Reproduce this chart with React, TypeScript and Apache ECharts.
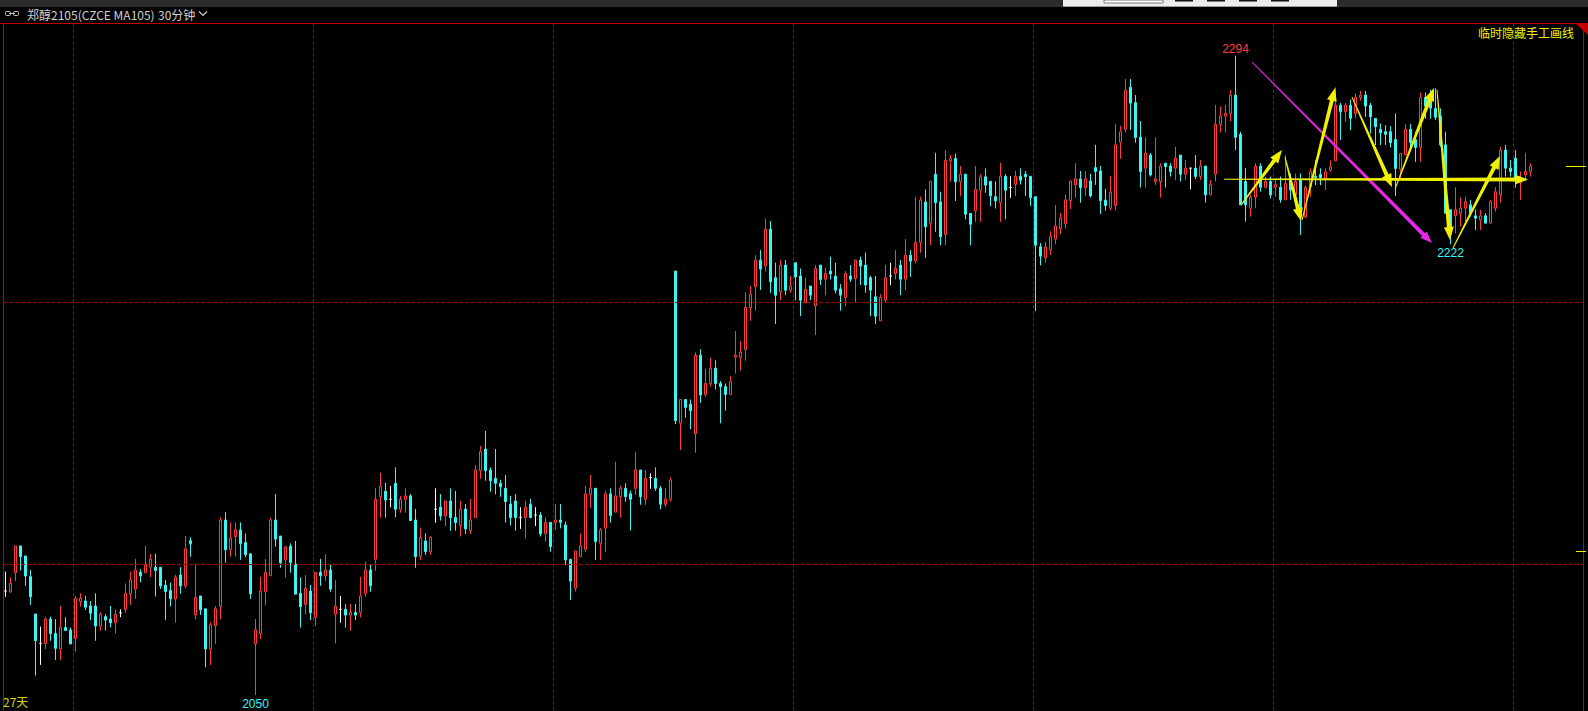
import React, { useEffect, useRef } from 'react';
import * as echarts from 'echarts';

// ---- candle values (30-minute bars, 郑醇2105) ----
const opens = [
  2089.7, 2089.4, 2096.7, 2106.9, 2103.1, 2095.2, 2080.9, 2069.7, 2069.7, 2079.0,
  2073.5, 2067.6, 2075.8, 2074.8, 2071.6, 2085.6, 2085.9, 2084.0, 2084.0, 2076.3,
  2079.9, 2079.0, 2077.6, 2081.4, 2082.7, 2088.6, 2090.5, 2096.9, 2096.7, 2098.8,
  2098.8, 2098.8, 2091.9, 2089.9, 2086.7, 2095.8, 2091.6, 2108.9, 2080.6, 2087.8,
  2082.9, 2067.6, 2076.5, 2083.8, 2116.8, 2105.6, 2110.5, 2113.0, 2108.2, 2103.9,
  2069.5, 2073.5, 2089.4, 2095.5, 2116.8, 2110.7, 2101.5, 2106.8, 2100.0, 2088.8,
  2084.6, 2089.7, 2079.6, 2096.8, 2095.5, 2097.7, 2080.8, 2082.7, 2082.7, 2080.5,
  2081.5, 2081.4, 2088.8, 2097.7, 2101.8, 2125.7, 2127.8, 2124.7, 2130.8, 2120.9,
  2124.7, 2126.0, 2116.8, 2102.8, 2108.8, 2104.7, 2120.9, 2121.7, 2118.3, 2124.1,
  2117.8, 2114.7, 2121.0, 2112.7, 2117.7, 2135.6, 2143.9, 2135.9, 2132.7, 2130.8,
  2128.9, 2122.9, 2124.1, 2117.8, 2117.8, 2122.8, 2118.7, 2118.7, 2111.7, 2115.9,
  2115.9, 2116.8, 2114.9, 2101.8, 2090.8, 2102.8, 2105.6, 2126.6, 2128.9, 2107.9,
  2113.7, 2126.8, 2119.8, 2125.7, 2128.9, 2126.8, 2128.9, 2135.9, 2124.7, 2133.0,
  2132.7, 2128.9, 2122.8, 2124.7, 2211.8, 2153.7, 2162.8, 2161.0, 2149.8, 2179.7,
  2164.7, 2168.9, 2174.7, 2168.9, 2167.7, 2164.7, 2179.0, 2178.9, 2181.9, 2197.9,
  2205.8, 2216.0, 2213.8, 2227.8, 2209.3, 2203.9, 2214.1, 2204.5, 2215.0, 2209.9,
  2199.7, 2206.1, 2198.6, 2214.1, 2208.7, 2211.8, 2209.9, 2205.0, 2201.7, 2209.9,
  2209.0, 2216.0, 2214.1, 2209.3, 2202.0, 2192.8, 2200.7, 2209.9, 2210.9, 2214.1,
  2208.7, 2217.9, 2215.7, 2222.7, 2238.2, 2230.0, 2248.8, 2238.2, 2225.8, 2253.9,
  2254.8, 2245.9, 2248.8, 2233.8, 2234.8, 2242.7, 2247.8, 2246.1, 2240.2, 2237.9,
  2248.0, 2243.7, 2244.9, 2248.0, 2248.8, 2248.0, 2240.2, 2221.1, 2217.0, 2220.0,
  2224.0, 2228.0, 2230.0, 2238.7, 2244.7, 2247.0, 2243.7, 2246.2, 2251.3, 2250.0,
  2238.9, 2235.8, 2236.8, 2261.0, 2265.9, 2282.0, 2276.1, 2262.9, 2251.1, 2256.1,
  2246.0, 2246.0, 2253.0, 2251.9, 2251.1, 2256.1, 2248.8, 2251.1, 2251.1, 2247.9,
  2251.9, 2240.9, 2248.8, 2267.8, 2271.0, 2272.0, 2279.0, 2264.0, 2246.0, 2235.8,
  2240.0, 2251.9, 2243.8, 2246.0, 2243.8, 2243.8, 2239.0, 2247.2, 2240.9, 2246.6,
  2232.5, 2244.0, 2248.0, 2248.7, 2246.8, 2250.3, 2253.9, 2275.1, 2272.6, 2275.1,
  2272.0, 2278.1, 2279.0, 2275.1, 2270.1, 2265.9, 2265.0, 2265.0, 2262.0, 2250.7,
  2256.1, 2265.9, 2262.0, 2259.0, 2278.1, 2279.0, 2273.9, 2271.0, 2260.0, 2235.2,
  2232.9, 2233.9, 2235.8, 2237.1, 2232.9, 2231.3, 2232.9, 2230.1, 2235.8, 2240.9,
  2258.0, 2251.1, 2254.9, 2245.6, 2248.5, 2249.8
];
const closes = [
  2089.7, 2092.6, 2106.9, 2102.8, 2095.4, 2087.5, 2070.7, 2069.7, 2079.0, 2073.5,
  2067.8, 2075.8, 2074.6, 2069.5, 2086.9, 2086.9, 2083.5, 2081.2, 2076.3, 2080.8,
  2078.6, 2077.6, 2080.8, 2081.4, 2088.8, 2093.9, 2097.7, 2095.5, 2100.0, 2101.8,
  2097.5, 2091.6, 2089.5, 2086.7, 2095.0, 2091.6, 2105.8, 2107.7, 2087.2, 2082.5,
  2067.6, 2076.8, 2082.9, 2116.8, 2105.4, 2109.8, 2113.0, 2107.7, 2103.5, 2088.6,
  2074.9, 2089.7, 2096.8, 2116.8, 2109.5, 2100.5, 2106.6, 2100.5, 2088.5, 2083.7,
  2090.7, 2081.4, 2096.8, 2095.5, 2097.7, 2090.4, 2083.9, 2082.7, 2080.5, 2081.5,
  2080.5, 2087.8, 2097.7, 2091.7, 2124.7, 2129.7, 2124.4, 2124.7, 2120.9, 2124.7,
  2126.0, 2116.6, 2102.8, 2110.1, 2104.7, 2110.1, 2120.9, 2118.3, 2124.1, 2117.7,
  2115.8, 2121.0, 2113.4, 2116.8, 2135.9, 2142.9, 2135.6, 2131.8, 2130.8, 2129.5,
  2123.8, 2117.7, 2117.7, 2117.8, 2121.7, 2117.7, 2118.7, 2111.5, 2115.9, 2106.7,
  2116.8, 2115.9, 2101.6, 2093.5, 2105.0, 2106.9, 2126.8, 2128.9, 2108.6, 2113.0,
  2126.8, 2118.5, 2126.0, 2128.9, 2125.7, 2124.7, 2135.9, 2125.7, 2132.7, 2133.0,
  2128.9, 2122.8, 2124.8, 2132.1, 2154.7, 2162.8, 2159.8, 2158.5, 2179.7, 2164.5,
  2168.9, 2174.7, 2168.9, 2167.7, 2164.7, 2169.6, 2179.7, 2180.8, 2197.9, 2202.9,
  2216.0, 2212.6, 2227.8, 2207.7, 2202.6, 2214.1, 2204.5, 2206.1, 2209.6, 2200.7,
  2204.8, 2202.6, 2212.8, 2208.6, 2210.9, 2210.7, 2204.5, 2202.6, 2210.9, 2208.7,
  2216.0, 2213.7, 2206.5, 2204.5, 2194.6, 2201.7, 2209.3, 2209.9, 2212.8, 2208.7,
  2217.9, 2215.6, 2222.7, 2238.9, 2228.7, 2246.1, 2237.9, 2224.9, 2254.1, 2254.8,
  2245.9, 2248.8, 2233.5, 2229.7, 2243.0, 2247.8, 2244.6, 2240.5, 2238.6, 2248.0,
  2242.7, 2243.7, 2248.0, 2246.5, 2247.8, 2239.8, 2221.7, 2217.5, 2221.0, 2225.0,
  2229.0, 2232.0, 2239.0, 2246.2, 2247.0, 2243.7, 2247.0, 2240.5, 2249.8, 2238.7,
  2236.8, 2241.9, 2260.0, 2265.0, 2280.9, 2275.9, 2262.8, 2249.8, 2256.8, 2248.5,
  2247.0, 2251.9, 2251.7, 2249.8, 2254.9, 2248.8, 2251.1, 2251.1, 2247.9, 2251.9,
  2240.9, 2244.9, 2267.8, 2271.0, 2272.0, 2279.0, 2262.9, 2237.1, 2237.1, 2240.0,
  2251.9, 2243.8, 2246.0, 2240.9, 2244.9, 2239.0, 2245.3, 2242.8, 2246.0, 2232.6,
  2243.7, 2249.7, 2247.5, 2247.5, 2249.7, 2251.6, 2275.1, 2272.6, 2275.1, 2270.1,
  2278.1, 2279.0, 2274.8, 2270.7, 2266.9, 2264.6, 2264.0, 2260.8, 2251.0, 2256.7,
  2265.9, 2260.8, 2259.0, 2278.1, 2274.8, 2274.0, 2270.5, 2260.0, 2233.9, 2226.2,
  2235.2, 2235.8, 2238.3, 2233.9, 2232.0, 2232.9, 2230.1, 2238.3, 2242.1, 2258.0,
  2251.1, 2249.8, 2247.2, 2246.6, 2249.8, 2251.9
];
const lows = [
  2087.5, 2089.0, 2093.5, 2097.5, 2091.7, 2084.4, 2057.4, 2061.5, 2067.6, 2070.7,
  2063.4, 2063.4, 2074.6, 2069.5, 2066.5, 2083.7, 2082.4, 2078.6, 2070.7, 2074.6,
  2074.6, 2075.8, 2073.5, 2079.7, 2081.4, 2084.4, 2086.7, 2093.0, 2096.7, 2095.0,
  2087.6, 2090.5, 2078.7, 2083.8, 2077.6, 2088.6, 2090.8, 2102.8, 2078.9, 2080.6,
  2060.6, 2061.5, 2069.5, 2078.9, 2100.5, 2102.8, 2102.8, 2101.6, 2102.6, 2086.7,
  2050.0, 2071.3, 2084.3, 2095.5, 2106.6, 2098.6, 2094.8, 2096.7, 2088.5, 2075.7,
  2080.8, 2078.6, 2076.4, 2091.7, 2093.6, 2089.4, 2069.7, 2077.6, 2075.7, 2074.5,
  2078.6, 2079.6, 2087.5, 2089.4, 2097.4, 2117.7, 2117.7, 2121.6, 2117.8, 2119.6,
  2119.6, 2116.6, 2098.6, 2101.5, 2103.5, 2103.5, 2115.8, 2116.6, 2114.5, 2112.7,
  2112.7, 2110.5, 2111.5, 2111.5, 2117.7, 2132.5, 2131.8, 2127.6, 2126.6, 2125.7,
  2115.8, 2114.7, 2112.7, 2113.4, 2109.8, 2117.7, 2114.5, 2110.5, 2108.6, 2104.7,
  2113.0, 2113.6, 2099.7, 2086.3, 2089.5, 2102.8, 2104.5, 2121.5, 2101.6, 2101.6,
  2104.7, 2115.8, 2119.8, 2117.7, 2123.8, 2112.8, 2126.4, 2122.6, 2122.6, 2128.7,
  2127.9, 2120.9, 2121.7, 2123.8, 2153.4, 2143.5, 2155.9, 2151.5, 2142.5, 2161.5,
  2163.8, 2167.7, 2166.6, 2153.7, 2158.5, 2164.7, 2172.7, 2173.8, 2177.6, 2192.8,
  2196.7, 2204.6, 2211.6, 2203.5, 2191.6, 2200.7, 2202.6, 2203.5, 2200.7, 2194.6,
  2199.7, 2200.7, 2187.4, 2206.5, 2202.6, 2208.6, 2203.3, 2196.7, 2198.4, 2207.7,
  2199.8, 2206.5, 2203.5, 2194.6, 2191.6, 2192.8, 2199.7, 2206.5, 2208.6, 2202.6,
  2204.5, 2209.6, 2214.7, 2218.8, 2216.9, 2221.7, 2226.8, 2221.7, 2221.7, 2245.9,
  2238.6, 2240.5, 2231.6, 2221.7, 2230.6, 2230.6, 2241.7, 2236.6, 2235.7, 2230.6,
  2231.6, 2239.8, 2240.5, 2244.9, 2240.5, 2236.7, 2196.5, 2214.0, 2215.0, 2218.0,
  2222.0, 2226.0, 2228.0, 2235.5, 2239.9, 2237.9, 2240.5, 2239.9, 2244.7, 2233.6,
  2234.9, 2234.9, 2234.9, 2254.6, 2264.7, 2265.7, 2260.8, 2243.7, 2243.7, 2247.9,
  2244.7, 2239.9, 2243.7, 2247.9, 2246.6, 2246.0, 2246.6, 2243.0, 2246.9, 2246.6,
  2237.9, 2240.9, 2246.0, 2264.7, 2264.7, 2268.9, 2258.0, 2237.1, 2230.7, 2232.6,
  2235.8, 2242.1, 2243.4, 2239.6, 2240.2, 2237.9, 2239.0, 2239.0, 2240.0, 2225.6,
  2232.0, 2240.2, 2244.6, 2244.6, 2242.7, 2249.7, 2253.9, 2261.8, 2268.8, 2265.6,
  2270.1, 2276.8, 2270.7, 2264.3, 2259.9, 2259.9, 2259.9, 2259.0, 2240.4, 2246.8,
  2256.1, 2259.0, 2253.5, 2253.5, 2270.0, 2270.0, 2269.5, 2259.3, 2233.9, 2222.0,
  2226.2, 2228.8, 2230.7, 2232.6, 2227.5, 2227.5, 2230.1, 2230.1, 2234.5, 2237.9,
  2247.9, 2247.9, 2243.7, 2239.0, 2246.0, 2247.9
];
const highs = [
  2097.1, 2094.9, 2106.9, 2106.9, 2103.1, 2097.7, 2080.9, 2076.1, 2079.9, 2079.9,
  2079.0, 2084.0, 2079.7, 2075.8, 2087.8, 2088.8, 2087.8, 2085.9, 2088.8, 2081.6,
  2080.8, 2084.0, 2082.7, 2082.7, 2092.6, 2097.1, 2101.9, 2098.0, 2106.9, 2103.9,
  2103.9, 2098.8, 2093.9, 2092.9, 2095.8, 2098.8, 2110.7, 2110.2, 2100.0, 2087.8,
  2082.9, 2077.8, 2084.0, 2117.9, 2119.8, 2115.9, 2115.9, 2115.9, 2111.7, 2103.9,
  2079.0, 2095.1, 2101.9, 2117.8, 2126.7, 2110.7, 2106.6, 2107.9, 2108.8, 2094.9,
  2095.8, 2092.0, 2096.8, 2101.9, 2103.8, 2100.0, 2093.9, 2087.8, 2084.7, 2084.7,
  2084.7, 2095.1, 2100.9, 2100.0, 2129.1, 2134.8, 2131.0, 2129.8, 2136.9, 2126.0,
  2128.9, 2126.7, 2121.0, 2113.9, 2111.7, 2110.7, 2128.9, 2126.7, 2124.1, 2128.9,
  2127.9, 2124.1, 2122.9, 2124.8, 2137.8, 2145.1, 2150.8, 2136.9, 2143.9, 2132.1,
  2134.0, 2126.0, 2126.7, 2121.7, 2124.1, 2124.8, 2121.7, 2119.8, 2117.8, 2115.9,
  2122.9, 2122.9, 2116.2, 2101.8, 2105.0, 2111.7, 2129.8, 2134.0, 2128.9, 2113.7,
  2127.9, 2128.9, 2139.1, 2129.9, 2130.8, 2128.0, 2142.7, 2135.9, 2135.9, 2134.6,
  2136.9, 2129.8, 2128.9, 2133.1, 2211.8, 2162.8, 2162.8, 2162.8, 2180.8, 2182.0,
  2174.7, 2178.8, 2177.8, 2169.8, 2168.9, 2171.7, 2188.9, 2185.1, 2203.7, 2206.1,
  2217.9, 2219.8, 2231.9, 2230.9, 2215.0, 2216.0, 2216.0, 2209.9, 2215.0, 2212.8,
  2209.3, 2206.1, 2214.1, 2214.1, 2213.1, 2217.3, 2215.0, 2206.8, 2211.8, 2214.1,
  2216.0, 2217.3, 2218.9, 2209.9, 2209.9, 2202.9, 2214.1, 2215.0, 2219.8, 2216.0,
  2224.0, 2219.8, 2240.2, 2240.2, 2243.0, 2246.1, 2257.0, 2242.1, 2258.0, 2256.1,
  2256.7, 2251.9, 2248.8, 2233.8, 2251.9, 2248.8, 2251.0, 2246.1, 2246.1, 2253.1,
  2248.8, 2248.0, 2250.0, 2251.0, 2250.0, 2248.0, 2240.2, 2222.5, 2223.0, 2227.0,
  2237.0, 2234.0, 2241.0, 2246.2, 2253.0, 2250.0, 2250.0, 2248.9, 2260.0, 2251.9,
  2243.2, 2248.1, 2268.0, 2267.2, 2285.1, 2285.1, 2279.0, 2269.1, 2262.9, 2256.8,
  2262.9, 2253.0, 2253.0, 2253.0, 2259.3, 2256.1, 2254.2, 2251.1, 2256.1, 2254.2,
  2251.9, 2246.6, 2275.2, 2274.6, 2275.2, 2281.0, 2294.0, 2265.0, 2251.1, 2240.9,
  2253.0, 2253.0, 2247.9, 2247.9, 2246.6, 2247.9, 2256.1, 2249.1, 2249.1, 2249.1,
  2244.5, 2251.0, 2254.1, 2251.0, 2251.0, 2254.1, 2281.9, 2276.0, 2276.0, 2277.3,
  2279.6, 2280.6, 2280.6, 2276.0, 2270.1, 2268.1, 2267.5, 2267.1, 2272.0, 2256.7,
  2267.9, 2267.9, 2265.0, 2279.9, 2280.0, 2281.0, 2281.6, 2273.9, 2265.0, 2235.2,
  2243.8, 2240.0, 2240.2, 2239.0, 2235.2, 2235.2, 2233.9, 2239.0, 2243.8, 2259.3,
  2259.9, 2254.2, 2258.0, 2249.8, 2256.8, 2253.0
];
const emptySlots = 10;
const gridPrices = [2100, 2200];
const sessionStart = 14;
const sessionLength = 48;
const hiIndex = 246;
const loIndex = 50;
const recentLoIndex = 289;
const refMarkPrice = 2105;

// hand-drawn analysis arrows, anchored as [bar index, price]
const yellowArrows = [
  [[247.1, 2237.0], [255.3, 2258.0]],
  [[255.9, 2255.3], [259.1, 2230.9]],
  [[259.3, 2231.3], [265.9, 2281.7]],
  [[269.3, 2278.2], [277.3, 2243.9]],
  [[277.9, 2243.1], [285.7, 2281.7]],
  [[286.3, 2280.9], [288.9, 2223.7]],
  [[289.5, 2220.6], [298.9, 2255.7]],
  [[243.7, 2246.9], [304.5, 2246.8]],
];
const magentaArrow = [[249.3, 2291.6], [285.3, 2222.5]];

const RED = '#ff3c3c';
const CYAN = '#3cf5f5';
const GRID_RED = '#a30000';
const YELLOW = '#f0f000';

export default function App() {
  const ref = useRef<HTMLDivElement>(null);
  useEffect(() => {
    document.body.style.margin = '0';
    document.body.style.background = '#000';
    const chart = echarts.init(ref.current!, null, { renderer: 'svg' });
    const n = opens.length;
    const cats: string[] = [];
    for (let i = 0; i < n + emptySlots; i++) cats.push(String(i + 1));
    const data = opens.map((o, i) => {
      const v = [o, closes[i], lows[i], highs[i]];
      if (o === closes[i]) {
        return { value: v, itemStyle: { color: '#ffffff', color0: '#ffffff', borderColor: '#ffffff', borderColor0: '#ffffff' } };
      }
      return v;
    });
    chart.setOption({
      animation: false,
      backgroundColor: '#000000',
      grid: { left: 3, right: 5, top: 23, bottom: 0, containLabel: false },
      xAxis: {
        type: 'category',
        data: cats,
        boundaryGap: true,
        axisLine: { show: false },
        axisTick: { show: false },
        axisLabel: { show: false },
        splitLine: {
          show: true,
          interval: (idx: number) => idx % sessionLength === sessionStart,
          lineStyle: { color: GRID_RED, type: [4, 2], width: 1 },
        },
      },
      yAxis: {
        type: 'value',
        min: 2043.9,
        max: 2306.5,
        axisLine: { show: false },
        axisTick: { show: false },
        axisLabel: { show: false },
        splitLine: { show: false },
      },
      series: [
        {
          type: 'candlestick',
          data,
          barWidth: 3,
          itemStyle: {
            color: '#000000',
            color0: CYAN,
            borderColor: RED,
            borderColor0: CYAN,
            borderWidth: 1,
          },
          markLine: {
            silent: true,
            symbol: 'none',
            label: { show: false },
            lineStyle: { color: GRID_RED, type: [4, 2], width: 1 },
            data: gridPrices.map((p) => ({ yAxis: p })),
          },
        },
      ],
    });

    const xa = chart.convertToPixel({ xAxisIndex: 0 }, 0) as number;
    const xb = chart.convertToPixel({ xAxisIndex: 0 }, 1) as number;
    const X = (i: number) => xa + (xb - xa) * i;
    const Y = (p: number) => chart.convertToPixel({ yAxisIndex: 0 }, p) as number;

    const taper = (ax: number, ay: number, bx: number, by: number, color: string, shaft: number, headW: number, headL: number) => {
      const dx = bx - ax, dy = by - ay;
      const len = Math.hypot(dx, dy);
      const ux = dx / len, uy = dy / len;
      const px = -uy, py = ux;
      const bsx = bx - ux * headL, bsy = by - uy * headL;
      const t = 0.5;
      const pts = [
        [ax + px * t, ay + py * t],
        [bsx + px * shaft / 2, bsy + py * shaft / 2],
        [bsx + px * headW / 2, bsy + py * headW / 2],
        [bx, by],
        [bsx - px * headW / 2, bsy - py * headW / 2],
        [bsx - px * shaft / 2, bsy - py * shaft / 2],
        [ax - px * t, ay - py * t],
      ];
      return { type: 'polygon', shape: { points: pts }, style: { fill: color }, z: 50 };
    };

    const els: any[] = [];
    // frame
    els.push({ type: 'rect', shape: { x: 0, y: 0, width: 1588, height: 7 }, style: { fill: '#2b2b2b' }, z: 40 });
    els.push({ type: 'line', shape: { x1: 0, y1: 23.5, x2: 1588, y2: 23.5 }, style: { stroke: '#c00000', lineWidth: 1 }, z: 40 });
    els.push({ type: 'line', shape: { x1: 3.5, y1: 23, x2: 3.5, y2: 711 }, style: { stroke: '#c00000', lineWidth: 1 }, z: 40 });
    els.push({ type: 'line', shape: { x1: 1583.5, y1: 23, x2: 1583.5, y2: 711 }, style: { stroke: '#3a3a3a', lineWidth: 1 }, z: 40 });
    els.push({ type: 'polygon', shape: { points: [[1576, 24], [1588, 24], [1588, 35]] }, style: { fill: '#c00000' }, z: 41 });
    // toolbar remnant
    els.push({ type: 'rect', shape: { x: 1063, y: 0, width: 274, height: 7 }, style: { fill: '#ececec' }, z: 41 });
    els.push({ type: 'rect', shape: { x: 1104, y: 0, width: 59, height: 3 }, style: { fill: '#ffffff', stroke: '#7a7a7a', lineWidth: 1 }, z: 42 });
    [1175, 1207, 1239, 1271].forEach((x) => {
      els.push({ type: 'rect', shape: { x, y: 0, width: 18, height: 1.5 }, style: { fill: '#111111' }, z: 42 });
    });
    els.push({ type: 'line', shape: { x1: 1063, y1: 6.5, x2: 1337, y2: 6.5 }, style: { stroke: '#9a9a9a', lineWidth: 1 }, z: 42 });
    // header
    els.push({ type: 'rect', shape: { x: 5.5, y: 11.5, width: 5, height: 4, r: 1 }, style: { fill: 'none', stroke: '#c8c8c8', lineWidth: 1 }, z: 42 });
    els.push({ type: 'rect', shape: { x: 13.5, y: 11.5, width: 5, height: 4, r: 1 }, style: { fill: 'none', stroke: '#c8c8c8', lineWidth: 1 }, z: 42 });
    els.push({ type: 'line', shape: { x1: 9, y1: 13.5, x2: 15, y2: 13.5 }, style: { stroke: '#c8c8c8', lineWidth: 1 }, z: 42 });
    els.push({ type: 'text', x: 27, y: 14, style: { text: '郑醇2105(CZCE MA105)', fill: '#d0d0d0', font: '12px "Noto Sans CJK SC"', textVerticalAlign: 'middle' }, z: 42 });
    els.push({ type: 'text', x: 158, y: 14, style: { text: '30分钟', fill: '#d0d0d0', font: '12px "Noto Sans CJK SC"', textVerticalAlign: 'middle' }, z: 42 });
    els.push({ type: 'polyline', shape: { points: [[199, 11.5], [203, 15.5], [207, 11.5]] }, style: { stroke: '#d0d0d0', lineWidth: 1.2, fill: 'none' }, z: 42 });
    els.push({ type: 'text', x: 1574, y: 32, style: { text: '临时隐藏手工画线', fill: YELLOW, font: '12px "Noto Sans CJK SC"', textAlign: 'right', textVerticalAlign: 'middle' }, z: 42 });
    els.push({ type: 'text', x: 3, y: 701, style: { text: '27天', fill: '#d6d600', font: '12px "Noto Sans CJK SC"', textVerticalAlign: 'middle' }, z: 42 });
    // price marks on right edge
    els.push({ type: 'line', shape: { x1: 1566, y1: Math.round(Y(closes[n - 1])) + 0.5, x2: 1586, y2: Math.round(Y(closes[n - 1])) + 0.5 }, style: { stroke: YELLOW, lineWidth: 1 }, z: 42 });
    els.push({ type: 'line', shape: { x1: 1576, y1: Math.round(Y(refMarkPrice)) + 0.5, x2: 1586, y2: Math.round(Y(refMarkPrice)) + 0.5 }, style: { stroke: YELLOW, lineWidth: 1 }, z: 42 });
    // extreme labels
    els.push({ type: 'text', x: X(hiIndex), y: Y(highs[hiIndex]) - 1, style: { text: String(highs[hiIndex]), fill: RED, font: '12px "Liberation Sans"', textAlign: 'center', textVerticalAlign: 'bottom' }, z: 42 });
    els.push({ type: 'text', x: X(loIndex), y: Y(lows[loIndex]) + 3, style: { text: String(lows[loIndex]), fill: CYAN, font: '12px "Liberation Sans"', textAlign: 'center', textVerticalAlign: 'top' }, z: 42 });
    els.push({ type: 'text', x: X(recentLoIndex), y: Y(lows[recentLoIndex]) + 3, style: { text: String(lows[recentLoIndex]), fill: CYAN, font: '12px "Liberation Sans"', textAlign: 'center', textVerticalAlign: 'top' }, z: 42 });
    // analysis arrows
    {
      const [a, b] = magentaArrow;
      els.push(taper(X(a[0]), Y(a[1]), X(b[0]), Y(b[1]), '#e628e6', 4, 9, 12));
    }
    yellowArrows.forEach(([a, b]) => {
      els.push(taper(X(a[0]), Y(a[1]), X(b[0]), Y(b[1]), YELLOW, 4, 10, 13));
    });
    chart.setOption({ graphic: els });
    return () => chart.dispose();
  }, []);
  return <div ref={ref} style={{ position: 'absolute', left: 0, top: 0, width: 1588, height: 711 }} />;
}
